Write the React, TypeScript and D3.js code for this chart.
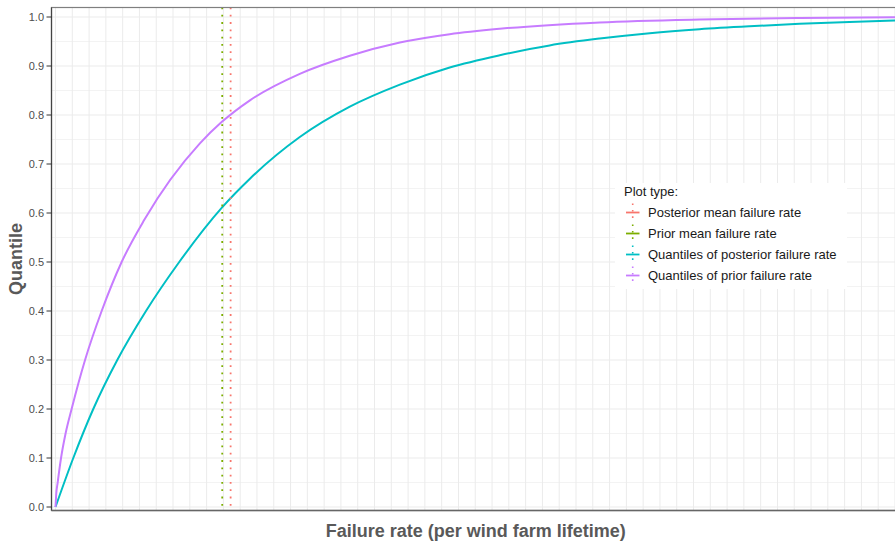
import React from "react";
import * as d3 from "d3";

// ---- data ----
const priorX = [0, 0.004, 0.013, 0.033, 0.06, 0.096, 0.176, 0.275, 0.394, 0.529, 0.86, 0.991, 1.158, 1.455, 1.753, 2.051, 2.348, 2.646, 3.241, 3.836, 4.432, 5.0];
const priorQ = [0, 0.025, 0.05, 0.1, 0.15, 0.2, 0.3, 0.4, 0.5, 0.586, 0.742, 0.786, 0.83, 0.884, 0.921, 0.948, 0.965, 0.976, 0.989, 0.995, 0.998, 0.9995];

const postX = [0, 0.106, 0.225, 0.368, 0.539, 0.737, 0.991, 1.158, 1.455, 1.753, 2.051, 2.348, 2.646, 2.943, 3.241, 3.539, 3.836, 4.134, 4.432, 4.729, 5.0];
const postQ = [0, 0.1, 0.2, 0.3, 0.4, 0.5, 0.611, 0.67, 0.755, 0.817, 0.862, 0.897, 0.922, 0.942, 0.956, 0.967, 0.975, 0.981, 0.986, 0.99, 0.993];

const priorMean = 0.993;
const posteriorMean = 1.043;

const legendLabels = [
  "Posterior mean failure rate",
  "Prior mean failure rate",
  "Quantiles of posterior failure rate",
  "Quantiles of prior failure rate",
];
const legendColors = ["#F8766D", "#7CAE00", "#00BFC4", "#C77CFF"];

const yTicks = [0, 0.1, 0.2, 0.3, 0.4, 0.5, 0.6, 0.7, 0.8, 0.9, 1.0];

const FONT = "'Liberation Sans', Arial, Helvetica, sans-serif";

export default function App() {
  const W = 895;
  const H = 543;
  const panel = { left: 51.5, top: 7.5, right: 900, bottom: 510.5 };

  const x = d3.scaleLinear().domain([0, 5]).range([55.5, 895]);
  const y = d3.scaleLinear().domain([0, 1]).range([507, 17]);

  const line = d3
    .line<[number, number]>()
    .x((d) => x(d[0]))
    .y((d) => y(d[1]))
    .curve(d3.curveMonotoneX);

  const priorPts = priorX.map((v, i) => [v, priorQ[i]] as [number, number]);
  const postPts = postX.map((v, i) => [v, postQ[i]] as [number, number]);

  const xGrid = d3.range(0, 5.2, 0.1);
  const yMinor = d3.range(0.05, 1.0, 0.1);

  const legX = 615;
  const legY = 183;
  const itemY = [212.5, 233.5, 254.5, 275.5];

  return (
    <svg
      width={W}
      height={H}
      style={{ position: "absolute", left: 0, top: 0, display: "block", background: "#fff" }}
    >
      <defs>
        <clipPath id="panelClip">
          <rect x={panel.left} y={panel.top} width={panel.right - panel.left} height={panel.bottom - panel.top} />
        </clipPath>
      </defs>
      <rect x={panel.left} y={panel.top} width={panel.right - panel.left} height={panel.bottom - panel.top} fill="#fff" />
      <g clipPath="url(#panelClip)">
        {yMinor.map((v) => (
          <line key={"ym" + v} x1={panel.left} x2={panel.right} y1={y(v)} y2={y(v)} stroke="#f3f3f3" strokeWidth={1} />
        ))}
        {xGrid.map((v) => (
          <line key={"xg" + v} x1={x(v)} x2={x(v)} y1={panel.top} y2={panel.bottom} stroke="#ebebeb" strokeWidth={1} />
        ))}
        {yTicks.map((v) => (
          <line key={"yg" + v} x1={panel.left} x2={panel.right} y1={y(v)} y2={y(v)} stroke="#ebebeb" strokeWidth={1.1} />
        ))}
        <path d={line(postPts) || ""} fill="none" stroke="#00BFC4" strokeWidth={2} />
        <path d={line(priorPts) || ""} fill="none" stroke="#C77CFF" strokeWidth={2} />
        <line
          x1={x(priorMean)}
          x2={x(priorMean)}
          y1={panel.top}
          y2={panel.bottom}
          stroke="#7CAE00"
          strokeWidth={1.8}
          strokeDasharray="1.8 5.5"
        />
        <line
          x1={x(posteriorMean)}
          x2={x(posteriorMean)}
          y1={panel.top}
          y2={panel.bottom}
          stroke="#F8766D"
          strokeWidth={1.8}
          strokeDasharray="1.8 5.5"
        />
      </g>
      {/* panel border */}
      <rect
        x={panel.left}
        y={panel.top}
        width={panel.right - panel.left}
        height={panel.bottom - panel.top}
        fill="none"
        stroke="#7f7f7f"
        strokeWidth={1.2}
      />
      <line x1={panel.left} x2={panel.left} y1={panel.top} y2={panel.bottom} stroke="#444" strokeWidth={1.2} />
      <line x1={panel.left} x2={panel.right} y1={panel.bottom} y2={panel.bottom} stroke="#666" strokeWidth={1.4} />

      {/* y axis ticks & labels */}
      {yTicks.map((v) => (
        <g key={"yt" + v}>
          <line x1={46.5} x2={panel.left} y1={y(v)} y2={y(v)} stroke="#333" strokeWidth={1} />
          <text
            x={44}
            y={y(v)}
            dy="0.36em"
            textAnchor="end"
            fontFamily={FONT}
            fontSize={11}
            fill="#4d4d4d"
          >
            {d3.format(".1f")(v)}
          </text>
        </g>
      ))}

      {/* axis titles */}
      <text
        x={(panel.left + panel.right) / 2}
        y={537}
        textAnchor="middle"
        fontFamily={FONT}
        fontWeight="bold"
        fontSize={18}
        fill="#595959"
      >
        Failure rate (per wind farm lifetime)
      </text>
      <text
        transform={`translate(22, ${(panel.top + panel.bottom) / 2}) rotate(-90)`}
        textAnchor="middle"
        fontFamily={FONT}
        fontWeight="bold"
        fontSize={18}
        fill="#595959"
      >
        Quantile
      </text>

      {/* legend */}
      <rect x={legX} y={legY} width={232} height={106} fill="#fff" />
      <text x={624} y={196} fontFamily={FONT} fontSize={13} fill="#1a1a1a">
        Plot type:
      </text>
      {legendLabels.map((lab, i) => (
        <g key={lab}>
          <line x1={626} x2={639.5} y1={itemY[i]} y2={itemY[i]} stroke={legendColors[i]} strokeWidth={1.8} />
          <line
            x1={632.7}
            x2={632.7}
            y1={itemY[i] - 9}
            y2={itemY[i] + 10}
            stroke={legendColors[i]}
            strokeWidth={1.6}
            strokeDasharray="1.6 4.8"
          />
          <text x={648} y={itemY[i]} dy="0.36em" fontFamily={FONT} fontSize={13} fill="#1a1a1a">
            {lab}
          </text>
        </g>
      ))}
    </svg>
  );
}
